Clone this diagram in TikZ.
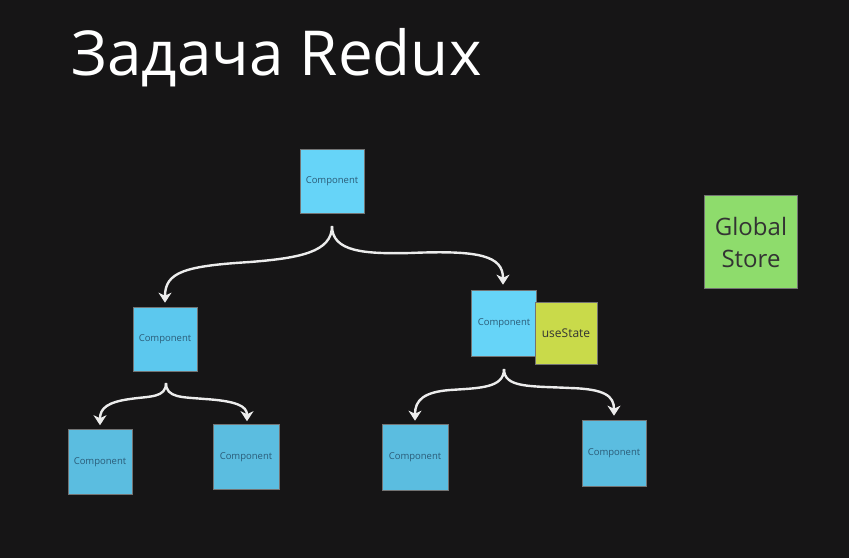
\documentclass[tikz,border=0pt]{standalone}
\usepackage{fontspec}
\setmainfont{Open Sans}
\usetikzlibrary{arrows.meta}
\definecolor{bg}{HTML}{161516}
\definecolor{compA}{HTML}{66D4F8}
\definecolor{compB}{HTML}{5CC8EE}
\definecolor{compC}{HTML}{5BBDE0}
\definecolor{comptext}{HTML}{2B5C78}
\definecolor{usecol}{HTML}{C9DA4A}
\definecolor{storecol}{HTML}{8EDC6C}
\definecolor{arrowcol}{HTML}{ECECEC}
\tikzset{
  sticky/.style={minimum width=64pt,minimum height=64pt,inner sep=0pt,draw=black!55,line width=0.6pt,
    font=\fontsize{9.5}{11}\selectfont,text=comptext},
  conn/.style={draw=arrowcol,line width=2.4pt,-{Stealth[length=10pt,width=13pt,inset=3pt]}}
}
\begin{document}
\begin{tikzpicture}[x=1pt,y=-1pt]
\fill[bg] (0,0) rectangle (849,558);
\useasboundingbox (0,0) rectangle (849,558);
\node[anchor=base west,text=white,font=\fontsize{62}{70}\selectfont,inner sep=0pt] (title) at (71,75) {Задача Redux};

\node[sticky,fill=compA] (top) at (332,181) {Component};
\node[sticky,fill=compB] (ml) at (165,339) {Component};
\node[sticky,fill=compA,minimum width=65pt,minimum height=66pt] (mr) at (504,323) {Component};
\node[sticky,fill=usecol,text=black!80,minimum width=62pt,minimum height=62pt,font=\fontsize{12}{14}\selectfont] (use) at (566,333) {useState};
\node[sticky,fill=storecol,text=black!80,minimum width=93pt,minimum height=93pt,font=\fontsize{24}{32}\selectfont,align=center] (store) at (751,242) {Global\\Store};

\node[sticky,fill=compC,minimum height=65pt] (b1) at (100,462) {Component};
\node[sticky,fill=compC,minimum width=66pt,minimum height=65pt] (b2) at (246,457) {Component};
\node[sticky,fill=compC,minimum width=66pt,minimum height=66pt] (b3) at (415,457) {Component};
\node[sticky,fill=compC,minimum height=66pt] (b4) at (614,453) {Component};

\coordinate (s1) at (332,226);
\coordinate (s2) at (166,383);
\coordinate (s3) at (504,369);

\draw[conn] (s1) .. controls (332,252) and (300,258) .. (250,262) .. controls (185,266) and (165,272) .. ([yshift=4pt]ml.north);
\draw[conn] (s1) .. controls (332,252) and (365,254) .. (410,253) .. controls (480,250) and (503,256) .. ([yshift=5pt,xshift=-1pt]mr.north);

\draw[conn] (s2) .. controls (166,398) and (150,396) .. (130,399) .. controls (108,402) and (100,408) .. ([yshift=4pt]b1.north);
\draw[conn] (s2) .. controls (166,398) and (182,397) .. (205,399) .. controls (236,401) and (247,406) .. ([yshift=3pt,xshift=1pt]b2.north);

\draw[conn] (s3) .. controls (504,388) and (480,388) .. (450,390) .. controls (424,392) and (415,400) .. ([yshift=3pt]b3.north);
\draw[conn] (s3) .. controls (504,388) and (530,386) .. (570,388) .. controls (605,389) and (614,396) .. ([yshift=4pt]b4.north);
\end{tikzpicture}
\end{document}
